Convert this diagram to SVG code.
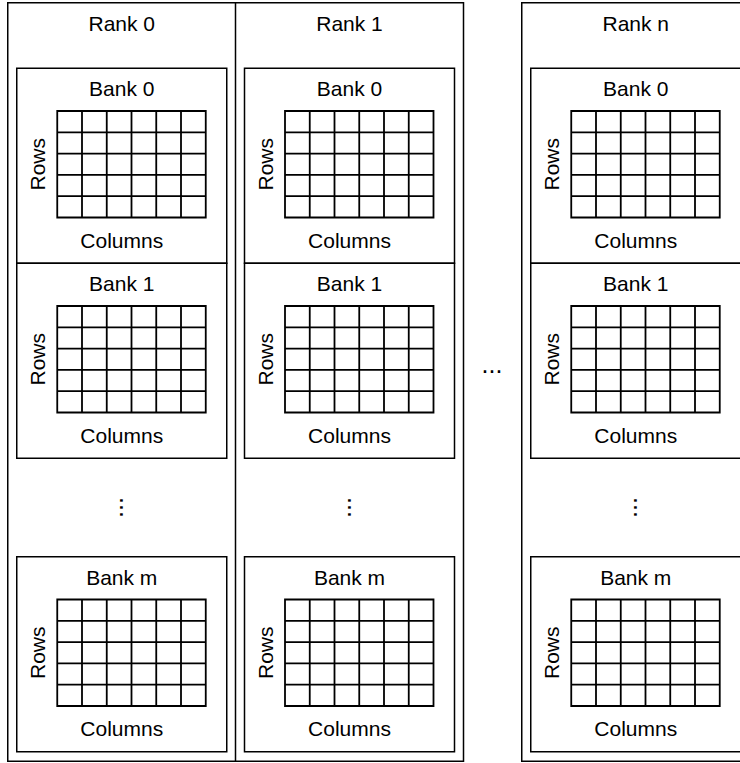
<svg xmlns="http://www.w3.org/2000/svg" xmlns:xlink="http://www.w3.org/1999/xlink" width="740" height="763" viewBox="0 0 740 763">
<style>
.box{fill:#fff;stroke:#000;stroke-width:1.5}
.grid{fill:none;stroke:#000;stroke-width:1.8}
text{font-family:"Liberation Sans",Arial,Helvetica,sans-serif;font-size:21px;fill:#000;text-anchor:middle}
.dots{font-size:25px}
</style>
<defs>
<path id="grid" class="grid" d="M0 0H148.5V106.5H0Z M24.75 0V106.5 M49.5 0V106.5 M74.25 0V106.5 M99 0V106.5 M123.75 0V106.5 M0 21.3H148.5 M0 42.6H148.5 M0 63.9H148.5 M0 85.2H148.5"/>
</defs>
<rect width="740" height="763" fill="#fff"/>
<g id="rank0">
<rect class="box" x="7.75" y="2.75" width="228" height="758.5"/>
<text x="121.75" y="30.5">Rank 0</text>
<text class="dots" transform="translate(120.4,507.5) rotate(90)">...</text>
<g id="rank0-bank0" transform="translate(16.75,68.25)">
<rect class="box" x="0" y="0" width="210" height="195"/>
<text x="105" y="28">Bank 0</text>
<use xlink:href="#grid" transform="translate(40.5,42.75)"/>
<text x="105" y="179.5">Columns</text>
<text transform="translate(28.5,96) rotate(-90)">Rows</text>
</g>
<g id="rank0-bank1" transform="translate(16.75,263.25)">
<rect class="box" x="0" y="0" width="210" height="195"/>
<text x="105" y="28">Bank 1</text>
<use xlink:href="#grid" transform="translate(40.5,42.75)"/>
<text x="105" y="179.5">Columns</text>
<text transform="translate(28.5,96) rotate(-90)">Rows</text>
</g>
<g id="rank0-bankm" transform="translate(16.75,556.75)">
<rect class="box" x="0" y="0" width="210" height="195"/>
<text x="105" y="28">Bank m</text>
<use xlink:href="#grid" transform="translate(40.5,42.75)"/>
<text x="105" y="179.5">Columns</text>
<text transform="translate(28.5,96) rotate(-90)">Rows</text>
</g>
</g>
<g id="rank1">
<rect class="box" x="235.5" y="2.75" width="228" height="758.5"/>
<text x="349.5" y="30.5">Rank 1</text>
<text class="dots" transform="translate(348.2,507.5) rotate(90)">...</text>
<g id="rank1-bank0" transform="translate(244.5,68.25)">
<rect class="box" x="0" y="0" width="210" height="195"/>
<text x="105" y="28">Bank 0</text>
<use xlink:href="#grid" transform="translate(40.5,42.75)"/>
<text x="105" y="179.5">Columns</text>
<text transform="translate(28.5,96) rotate(-90)">Rows</text>
</g>
<g id="rank1-bank1" transform="translate(244.5,263.25)">
<rect class="box" x="0" y="0" width="210" height="195"/>
<text x="105" y="28">Bank 1</text>
<use xlink:href="#grid" transform="translate(40.5,42.75)"/>
<text x="105" y="179.5">Columns</text>
<text transform="translate(28.5,96) rotate(-90)">Rows</text>
</g>
<g id="rank1-bankm" transform="translate(244.5,556.75)">
<rect class="box" x="0" y="0" width="210" height="195"/>
<text x="105" y="28">Bank m</text>
<use xlink:href="#grid" transform="translate(40.5,42.75)"/>
<text x="105" y="179.5">Columns</text>
<text transform="translate(28.5,96) rotate(-90)">Rows</text>
</g>
</g>
<text id="ellipsis" class="dots" x="492" y="373">...</text>
<g id="rankn">
<rect class="box" x="521.75" y="2.75" width="228" height="758.5"/>
<text x="635.75" y="30.5">Rank n</text>
<text class="dots" transform="translate(634.4,507.5) rotate(90)">...</text>
<g id="rankn-bank0" transform="translate(530.75,68.25)">
<rect class="box" x="0" y="0" width="210" height="195"/>
<text x="105" y="28">Bank 0</text>
<use xlink:href="#grid" transform="translate(40.5,42.75)"/>
<text x="105" y="179.5">Columns</text>
<text transform="translate(28.5,96) rotate(-90)">Rows</text>
</g>
<g id="rankn-bank1" transform="translate(530.75,263.25)">
<rect class="box" x="0" y="0" width="210" height="195"/>
<text x="105" y="28">Bank 1</text>
<use xlink:href="#grid" transform="translate(40.5,42.75)"/>
<text x="105" y="179.5">Columns</text>
<text transform="translate(28.5,96) rotate(-90)">Rows</text>
</g>
<g id="rankn-bankm" transform="translate(530.75,556.75)">
<rect class="box" x="0" y="0" width="210" height="195"/>
<text x="105" y="28">Bank m</text>
<use xlink:href="#grid" transform="translate(40.5,42.75)"/>
<text x="105" y="179.5">Columns</text>
<text transform="translate(28.5,96) rotate(-90)">Rows</text>
</g>
</g>
<g id="connectors"/>
</svg>
